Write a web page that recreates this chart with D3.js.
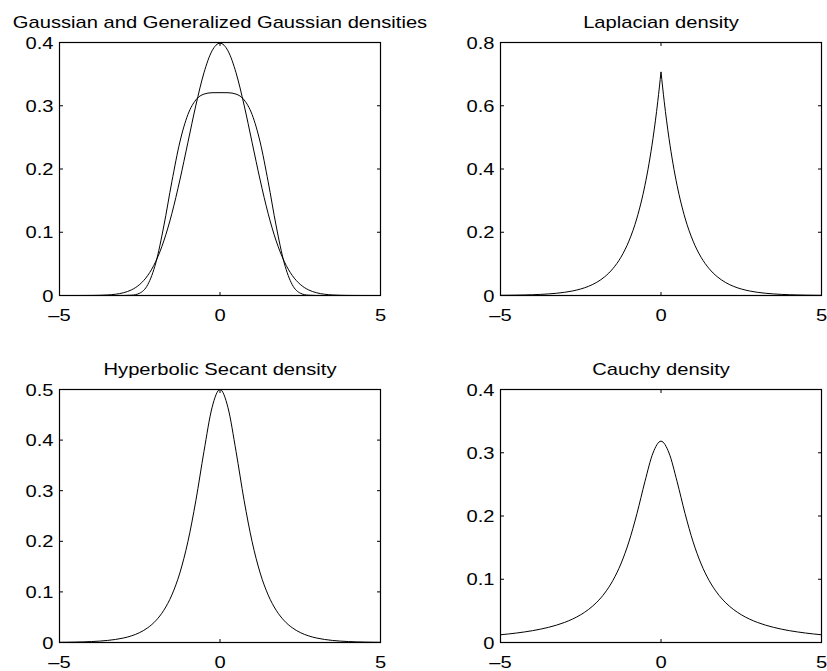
<!DOCTYPE html>
<html><head><meta charset="utf-8">
<script src="https://cdn.jsdelivr.net/npm/d3@7"></script>
<style>
html,body{margin:0;padding:0;background:#fff;}
svg{display:block;}
text{font-family:"Liberation Sans",Arial,Helvetica,sans-serif;font-size:16px;fill:#000;}
</style></head>
<body>
<svg id="chart" width="827" height="671"></svg>
<script>
// ---- data ----
const xGrid = [-5,-4.75,-4.5,-4.25,-4,-3.75,-3.5,-3.25,-3,-2.75,-2.5,-2.25,-2,-1.75,-1.5,-1.25,-1,-0.75,-0.5,-0.25,0,
  0.25,0.5,0.75,1,1.25,1.5,1.75,2,2.25,2.5,2.75,3,3.25,3.5,3.75,4,4.25,4.5,4.75,5];

const gaussian = [0,0.00001,0.00002,0.00005,0.00013,0.00035,0.00087,0.00203,0.00443,0.00909,0.01753,0.03174,0.05399,0.08628,0.12952,0.18265,0.24197,0.30114,0.35207,0.38667,0.39894,
  0.38667,0.35207,0.30114,0.24197,0.18265,0.12952,0.08628,0.05399,0.03174,0.01753,0.00909,0.00443,0.00203,0.00087,0.00035,0.00013,0.00005,0.00002,0.00001,0];

const genGaussian = [0,0,0,0,0,0,0,0,0.00003,0.00047,0.0037,0.01717,0.05156,0.1099,0.1799,0.2427,0.2861,0.3093,0.3184,0.3206,0.3207,
  0.3206,0.3184,0.3093,0.2861,0.2427,0.1799,0.1099,0.05156,0.01717,0.0037,0.00047,0.00003,0,0,0,0,0,0,0,0];

const xLaplace = [-5,-4.75,-4.5,-4.25,-4,-3.75,-3.5,-3.25,-3,-2.75,-2.5,-2.25,-2,-1.75,-1.5,-1.25,-1,-0.75,-0.5,-0.375,-0.25,-0.1,0,
  0.1,0.25,0.375,0.5,0.75,1,1.25,1.5,1.75,2,2.25,2.5,2.75,3,3.25,3.5,3.75,4,4.25,4.5,4.75,5];
const laplacian = [0.0006,0.00086,0.00122,0.00173,0.00247,0.00352,0.00501,0.00714,0.01016,0.01447,0.02061,0.02935,0.0418,0.05952,0.08477,0.12072,0.17191,0.24482,0.34865,0.41608,0.49653,0.61385,0.70711,
  0.61385,0.49653,0.41608,0.34865,0.24482,0.17191,0.12072,0.08477,0.05952,0.0418,0.02935,0.02061,0.01447,0.01016,0.00714,0.00501,0.00352,0.00247,0.00173,0.00122,0.00086,0.0006];

const hypSecant = [0.00039,0.00057,0.00085,0.00126,0.00187,0.00277,0.0041,0.00607,0.00898,0.0133,0.0197,0.02916,0.04313,0.06374,0.09394,0.13765,0.19927,0.28119,0.37747,0.46377,0.5,
  0.46377,0.37747,0.28119,0.19927,0.13765,0.09394,0.06374,0.04313,0.02916,0.0197,0.0133,0.00898,0.00607,0.0041,0.00277,0.00187,0.00126,0.00085,0.00057,0.00039];

const cauchy = [0.01224,0.01351,0.01498,0.0167,0.01872,0.02113,0.02402,0.02753,0.03183,0.03718,0.0439,0.05251,0.06366,0.07835,0.09794,0.12422,0.15915,0.20372,0.25465,0.29959,0.31831,
  0.29959,0.25465,0.20372,0.15915,0.12422,0.09794,0.07835,0.06366,0.05251,0.0439,0.03718,0.03183,0.02753,0.02402,0.02113,0.01872,0.0167,0.01498,0.01351,0.01224];

const titles = ["Gaussian and Generalized Gaussian densities","Laplacian density","Hyperbolic Secant density","Cauchy density"];
const xTicks = [-5,0,5];
const xTickLabels = ["\u20135","0","5"];
const yTicksA = [0,0.1,0.2,0.3,0.4];
const yTicksB = [0,0.2,0.4,0.6,0.8];
const yTicksC = [0,0.1,0.2,0.3,0.4,0.5];
const yTicksD = [0,0.1,0.2,0.3,0.4];

// ---- drawing ----
const svg = d3.select("#chart");
const SX = 1.26; // horizontal stretch of the glyphs

const panels = [
  {x0:59.5,x1:380.5,y0:42.5,y1:295.5,ymax:0.4,yTicks:yTicksA,title:titles[0],
   series:[{x:xGrid,y:gaussian},{x:xGrid,y:genGaussian}]},
  {x0:500.5,x1:821.5,y0:42.5,y1:295.5,ymax:0.8,yTicks:yTicksB,title:titles[1],
   series:[{x:xLaplace,y:laplacian,split:true}]},
  {x0:59.5,x1:380.5,y0:389.5,y1:642.5,ymax:0.5,yTicks:yTicksC,title:titles[2],
   series:[{x:xGrid,y:hypSecant}]},
  {x0:500.5,x1:821.5,y0:389.5,y1:642.5,ymax:0.4,yTicks:yTicksD,title:titles[3],
   series:[{x:xGrid,y:cauchy}]}
];

function stretchedText(g, x, y, str, anchor){
  g.append("text")
    .attr("transform", `translate(${x},${y}) scale(${SX},1)`)
    .attr("text-anchor", anchor)
    .text(str);
}

panels.forEach(p => {
  const x = d3.scaleLinear().domain([-5,5]).range([p.x0,p.x1]);
  const y = d3.scaleLinear().domain([0,p.ymax]).range([p.y1,p.y0]);
  const g = svg.append("g");

  // curves
  p.series.forEach(s => {
    const pts = s.x.map((v,i)=>[v,s.y[i]]);
    const line = d3.line().x(d=>x(d[0])).y(d=>y(d[1])).curve(d3.curveMonotoneX);
    const parts = s.split ? [pts.filter(d=>d[0]<=0), pts.filter(d=>d[0]>=0)] : [pts];
    parts.forEach(part=>{
      g.append("path").attr("d", line(part))
        .attr("fill","none").attr("stroke","#000").attr("stroke-width",1);
    });
  });

  // box
  g.append("rect").attr("x",p.x0).attr("y",p.y0)
    .attr("width",p.x1-p.x0).attr("height",p.y1-p.y0)
    .attr("fill","none").attr("stroke","#000").attr("stroke-width",1.2);

  const tl = 3.5;
  // x ticks (bottom & top, inward)
  xTicks.forEach((t,i)=>{
    const xx = x(t);
    g.append("line").attr("x1",xx).attr("x2",xx).attr("y1",p.y1).attr("y2",p.y1-tl).attr("stroke","#000");
    g.append("line").attr("x1",xx).attr("x2",xx).attr("y1",p.y0).attr("y2",p.y0+tl).attr("stroke","#000");
    stretchedText(g, xx, p.y1+25, xTickLabels[i], "middle");
  });
  // y ticks (left & right, inward)
  p.yTicks.forEach(t=>{
    const yy = y(t);
    g.append("line").attr("x1",p.x0).attr("x2",p.x0+tl).attr("y1",yy).attr("y2",yy).attr("stroke","#000");
    g.append("line").attr("x1",p.x1).attr("x2",p.x1-tl).attr("y1",yy).attr("y2",yy).attr("stroke","#000");
    stretchedText(g, p.x0-6, yy+6, d3.format("~g")(t), "end");
  });

  // title
  stretchedText(g, (p.x0+p.x1)/2, p.y0-15, p.title, "middle");
});
</script>
</body></html>
